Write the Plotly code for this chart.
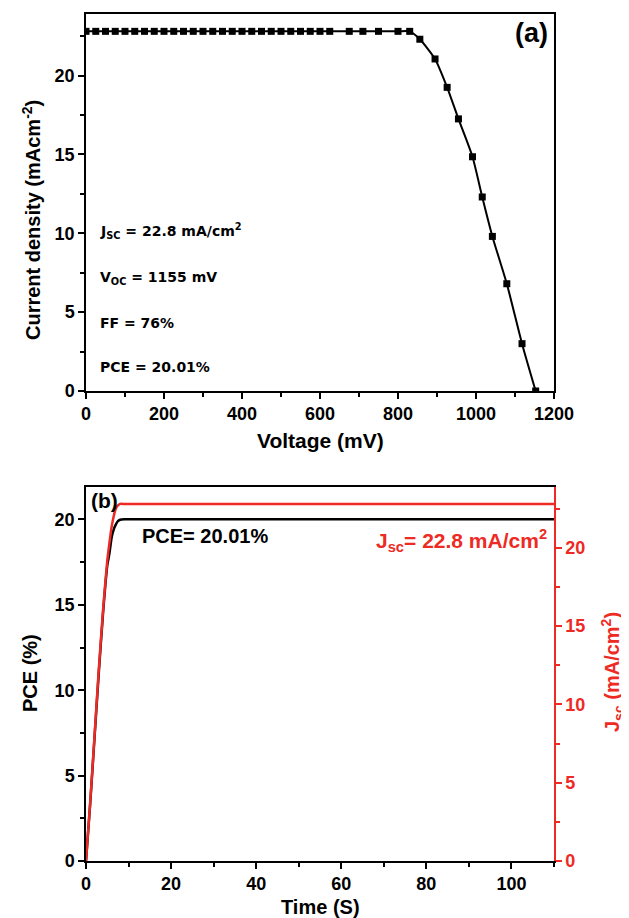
import plotly.graph_objects as go

# ---------------- data: panel (a) J-V curve ----------------
voltage_mv = [0, 25, 50, 75, 100, 125, 150, 175, 200, 225, 250, 275, 300, 325, 350,
              375, 400, 425, 450, 475, 500, 525, 550, 575, 600, 625,
              675, 710, 750, 800, 830, 856, 895, 926, 955, 991, 1016, 1042, 1079, 1118, 1153]
current_density = [22.8, 22.8, 22.8, 22.8, 22.8, 22.8, 22.8, 22.8, 22.8, 22.8, 22.8, 22.8, 22.8,
                   22.8, 22.8, 22.8, 22.8, 22.8, 22.8, 22.8, 22.8, 22.8, 22.8, 22.8, 22.8, 22.8,
                   22.8, 22.8, 22.8, 22.8, 22.8, 22.3, 21.05, 19.25, 17.25, 14.85, 12.3, 9.8,
                   6.8, 3.0, 0.0]

# ---------------- data: panel (b) stabilised output ----------------
time_s = [0, 1, 2, 3, 4, 5, 5.5, 6, 6.5, 7, 7.5, 8, 9, 10, 30, 50, 70, 90, 110]
pce_pct = [0, 3.4, 7.2, 11.0, 14.5, 17.3, 18.0, 18.9, 19.4, 19.7, 19.9, 19.98, 20.01, 20.01,
           20.01, 20.01, 20.01, 20.01, 20.01]
jsc_ma = [0, 3.8, 8.0, 12.2, 16.0, 19.2, 20.3, 21.3, 22.0, 22.5, 22.7, 22.8, 22.8, 22.8,
          22.8, 22.8, 22.8, 22.8, 22.8]

FONT = "Liberation Sans, Arial, sans-serif"
WIDE = "DejaVu Sans, Liberation Sans, sans-serif"
RED = "#ee2a24"
OFF = 8                      # browser body margin
W, H = 629, 918


def px(x):
    return (x - OFF) / W


def py(y):
    return 1 - (y - OFF) / H


fig = go.Figure()

fig.add_trace(go.Scatter(
    x=voltage_mv, y=current_density, mode="lines+markers",
    line=dict(color="black", width=2, shape="spline", smoothing=0.6),
    marker=dict(symbol="square", size=7, color="black"),
    xaxis="x", yaxis="y", showlegend=False))

fig.add_trace(go.Scatter(
    x=time_s, y=pce_pct, mode="lines",
    line=dict(color="black", width=2.5, shape="spline", smoothing=0.5),
    xaxis="x2", yaxis="y2", showlegend=False))

fig.add_trace(go.Scatter(
    x=time_s, y=jsc_ma, mode="lines",
    line=dict(color=RED, width=2.5, shape="spline", smoothing=0.5),
    xaxis="x2", yaxis="y3", showlegend=False))

tickfont = dict(family=FONT, size=18, color="black", weight="bold")
tickfont_red = dict(family=FONT, size=18, color=RED, weight="bold")

xdom = [px(86), px(554)]
common_axis = dict(showgrid=False, zeroline=False, showline=True, linewidth=1.5,
                   ticks="outside", ticklen=6, tickwidth=1.5, automargin=False)

fig.update_layout(
    width=W, height=H, margin=dict(l=0, r=0, t=0, b=0, pad=0, autoexpand=False),
    paper_bgcolor="white", plot_bgcolor="white",
    font=dict(family=FONT, color="black", size=16),
    xaxis=dict(domain=xdom, anchor="y", range=[0, 1200], dtick=200, linecolor="black",
               tickcolor="black", mirror=True, tickfont=tickfont,
               minor=dict(ticks="outside", dtick=100, ticklen=4, tickwidth=1.5, tickcolor="black"),
               **common_axis),
    yaxis=dict(domain=[py(391), py(14)], anchor="x", range=[0, 23.9], dtick=5,
               linecolor="black", tickcolor="black", mirror=True, tickfont=tickfont,
               minor=dict(ticks="outside", dtick=2.5, ticklen=4, tickwidth=1.5, tickcolor="black"),
               **common_axis),
    xaxis2=dict(domain=xdom, anchor="y2", range=[0, 110], dtick=20, linecolor="black",
                tickcolor="black", mirror=True, tickfont=tickfont,
                minor=dict(ticks="outside", dtick=10, ticklen=4, tickwidth=1.5, tickcolor="black"),
                **common_axis),
    yaxis2=dict(domain=[py(861), py(487)], anchor="x2", range=[0, 21.9], dtick=5,
                linecolor="black", tickcolor="black", tickfont=tickfont,
                minor=dict(ticks="outside", dtick=2.5, ticklen=4, tickwidth=1.5, tickcolor="black"),
                **common_axis),
    yaxis3=dict(overlaying="y2", anchor="x2", side="right", range=[0, 23.88], dtick=5,
                linecolor=RED, tickcolor=RED, tickfont=tickfont_red,
                minor=dict(ticks="outside", dtick=2.5, ticklen=4, tickwidth=1.5, tickcolor=RED),
                **common_axis),
)

annotations = [
    # axis titles panel (a)
    dict(text="Voltage (mV)", x=px(320), y=py(441), font=dict(size=21)),
    dict(text="Current density (mAcm<sup>-2</sup>)", x=px(31), y=py(220), textangle=-90,
         font=dict(size=20)),
    # panel (a) labels
    dict(text="(a)", x=px(531), y=py(33), font=dict(size=27)),
    dict(text="J<sub>SC</sub> = 22.8 mA/cm<sup>2</sup>", x=px(98), y=py(231), xanchor="left",
         font=dict(size=14, family=WIDE)),
    dict(text="V<sub>OC</sub> = 1155 mV", x=px(98), y=py(278), xanchor="left",
         font=dict(size=14, family=WIDE)),
    dict(text="FF = 76%", x=px(98), y=py(323), xanchor="left", font=dict(size=14, family=WIDE)),
    dict(text="PCE = 20.01%", x=px(98), y=py(367), xanchor="left", font=dict(size=14, family=WIDE)),
    # axis titles panel (b)
    dict(text="Time (S)", x=px(320), y=py(907), font=dict(size=20)),
    dict(text="PCE (%)", x=px(30), y=py(673), textangle=-90, font=dict(size=20)),
    dict(text="J<sub>sc</sub> (mA/cm<sup>2</sup>)", x=px(612), y=py(672), textangle=-90,
         font=dict(size=20, color=RED)),
    # panel (b) labels
    dict(text="(b)", x=px(89), y=py(500), xanchor="left", font=dict(size=21)),
    dict(text="PCE= 20.01%", x=px(140), y=py(536), xanchor="left", font=dict(size=20)),
    dict(text="J<sub>sc</sub>= 22.8 mA/cm<sup>2</sup>", x=px(549), y=py(540), xanchor="right",
         font=dict(size=21, color=RED)),
]
for a in annotations:
    f = dict(family=FONT, color="black", weight="bold")
    f.update(a.pop("font"))
    a.setdefault("xanchor", "center")
    a.setdefault("yanchor", "middle")
    fig.add_annotation(xref="paper", yref="paper", showarrow=False, font=f, **a)

fig.write_html("out.html")
